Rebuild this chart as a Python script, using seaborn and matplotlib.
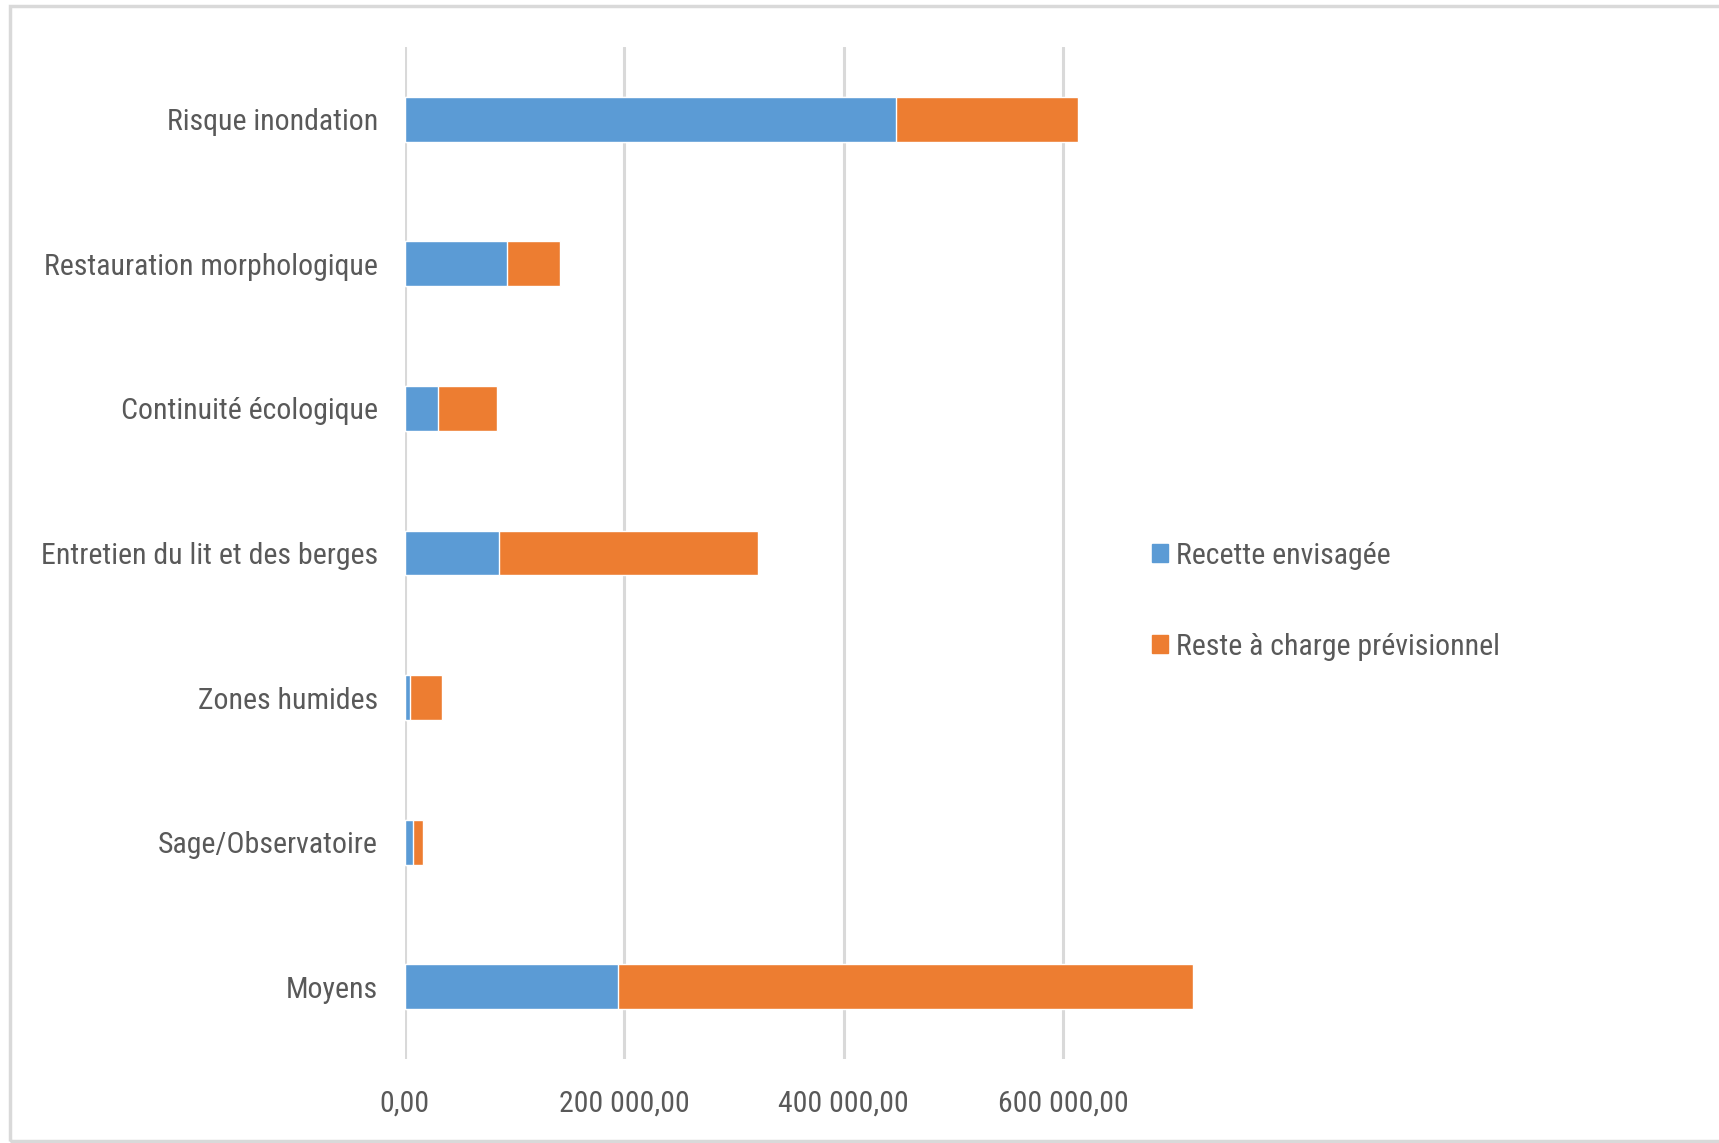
import matplotlib
matplotlib.use("Agg")
import matplotlib.pyplot as plt
import matplotlib.patches as mpatches
from matplotlib.ticker import FuncFormatter, FixedLocator
from matplotlib import font_manager
import seaborn as sns
import pandas as pd

categories = ["Risque inondation", "Restauration morphologique", "Continuité écologique",
              "Entretien du lit et des berges", "Zones humides", "Sage/Observatoire", "Moyens"]
recette = [448000, 93600, 30200, 86300, 4700, 7700, 194300]
reste = [165700, 48300, 54300, 235900, 29700, 9400, 523800]
series_names = ["Recette envisagée", "Reste à charge prévisionnel"]
xticks = [0, 200000, 400000, 600000]

sns.set_theme(style="white")
avail = {f.name for f in font_manager.fontManager.ttflist}
fam = [f for f in ["Liberation Sans Narrow", "Roboto Condensed", "Open Sans Condensed"] if f in avail]
plt.rcParams['font.family'] = fam + ["Liberation Sans", "DejaVu Sans"]

blue = "#5B9BD5"
orange = "#ED7D31"
txt = "#595959"

df = pd.DataFrame({"cat": categories, "recette": recette,
                   "total": [a + b for a, b in zip(recette, reste)]})

W, H = 1719, 1143
fig = plt.figure(figsize=(W / 100, H / 100), dpi=100)
left, right, top, bottom = 404.5, 1260, 47, 1059
ax = fig.add_axes([left / W, 1 - bottom / H, (right - left) / W, (bottom - top) / H])

sns.barplot(data=df, y="cat", x="total", color=orange, orient="h", width=0.31,
            ax=ax, saturation=1, order=categories)
sns.barplot(data=df, y="cat", x="recette", color=blue, orient="h", width=0.31,
            ax=ax, saturation=1, order=categories)

xmax = 200000 * (right - left) / 219.6
ax.set_xlim(0, xmax)
ax.set_ylim(6.5, -0.5)
ax.xaxis.set_major_locator(FixedLocator(xticks))
ax.xaxis.set_major_formatter(FuncFormatter(lambda v, p: f"{v:,.2f}".replace(",", " ").replace(".", ",")))
ax.grid(axis="x", color="#D9D9D9", linewidth=2.2)
ax.set_axisbelow(True)
for s in ax.spines.values():
    s.set_visible(False)
ax.set_xlabel("")
ax.set_ylabel("")
ax.tick_params(axis="y", length=0, pad=19, labelsize=21.5, labelcolor=txt)
ax.tick_params(axis="x", length=0, pad=22, labelsize=21.5, labelcolor=txt)

handles = [mpatches.Patch(color=blue, label=series_names[0]),
           mpatches.Patch(color=orange, label=series_names[1])]
leg = fig.legend(handles=handles, loc="upper left", bbox_to_anchor=(1140 / W, 1 - 530 / H),
                 frameon=False, fontsize=21.5, labelcolor=txt, handlelength=0.55, handleheight=0.55,
                 handletextpad=0.25, labelspacing=2.1, borderaxespad=0)

fig.add_artist(mpatches.Rectangle((10 / W, 2 / H), (W + 10) / W, (H - 8) / H,
                                  transform=fig.transFigure, fill=False,
                                  edgecolor="#D9D9D9", linewidth=2.5))

fig.savefig("out.png", dpi=100, facecolor="white")
